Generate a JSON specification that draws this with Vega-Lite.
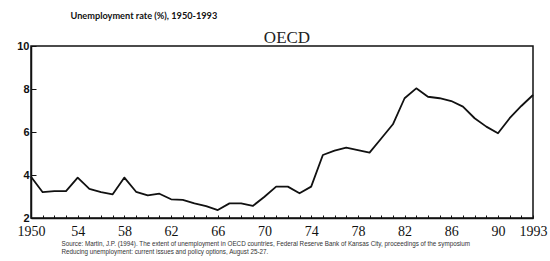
{
  "$schema": "https://vega.github.io/schema/vega-lite/v6.json",
  "width": 502,
  "height": 172,
  "autosize": "none",
  "padding": {"left": 31, "top": 46, "right": 17, "bottom": 43},
  "background": "white",
  "title": {
    "text": "OECD",
    "font": "Liberation Serif",
    "fontSize": 17,
    "fontWeight": "normal",
    "color": "#222",
    "anchor": "middle",
    "offset": 1,
    "dx": 5,
    "dy": 37
  },
  "config": {
    "view": {"stroke": "#111", "strokeWidth": 1.5},
    "axis": {"grid": false, "domainColor": "#111", "tickColor": "#111", "domainWidth": 1.5}
  },
  "data": {
    "values": [
      {"year": 1950, "rate": 3.92},
      {"year": 1951, "rate": 3.2},
      {"year": 1952, "rate": 3.25},
      {"year": 1953, "rate": 3.25},
      {"year": 1954, "rate": 3.88},
      {"year": 1955, "rate": 3.35},
      {"year": 1956, "rate": 3.2},
      {"year": 1957, "rate": 3.1},
      {"year": 1958, "rate": 3.88},
      {"year": 1959, "rate": 3.22},
      {"year": 1960, "rate": 3.05},
      {"year": 1961, "rate": 3.13},
      {"year": 1962, "rate": 2.87},
      {"year": 1963, "rate": 2.84},
      {"year": 1964, "rate": 2.68},
      {"year": 1965, "rate": 2.55},
      {"year": 1966, "rate": 2.37},
      {"year": 1967, "rate": 2.68},
      {"year": 1968, "rate": 2.68},
      {"year": 1969, "rate": 2.56},
      {"year": 1970, "rate": 2.99},
      {"year": 1971, "rate": 3.46},
      {"year": 1972, "rate": 3.46},
      {"year": 1973, "rate": 3.15},
      {"year": 1974, "rate": 3.46},
      {"year": 1975, "rate": 4.93},
      {"year": 1976, "rate": 5.13},
      {"year": 1977, "rate": 5.27},
      {"year": 1978, "rate": 5.16},
      {"year": 1979, "rate": 5.04},
      {"year": 1980, "rate": 5.7},
      {"year": 1981, "rate": 6.36},
      {"year": 1982, "rate": 7.57},
      {"year": 1983, "rate": 8.03},
      {"year": 1984, "rate": 7.64},
      {"year": 1985, "rate": 7.57},
      {"year": 1986, "rate": 7.44},
      {"year": 1987, "rate": 7.18},
      {"year": 1988, "rate": 6.64},
      {"year": 1989, "rate": 6.25},
      {"year": 1990, "rate": 5.94},
      {"year": 1991, "rate": 6.64},
      {"year": 1992, "rate": 7.21},
      {"year": 1993, "rate": 7.72}
    ]
  },
  "mark": {"type": "line", "color": "#111", "strokeWidth": 1.8, "strokeJoin": "round"},
  "encoding": {
    "x": {
      "field": "year",
      "type": "quantitative",
      "scale": {"domain": [1950, 1993], "nice": false, "zero": false},
      "axis": {
        "values": [1950,1951,1952,1953,1954,1955,1956,1957,1958,1959,1960,1961,1962,1963,1964,1965,1966,1967,1968,1969,1970,1971,1972,1973,1974,1975,1976,1977,1978,1979,1980,1981,1982,1983,1984,1985,1986,1987,1988,1989,1990,1991,1992,1993],
        "labelExpr": "datum.value == 1950 || datum.value == 1993 ? toString(datum.value) : ((datum.value - 1950) % 4 == 0 ? substring(toString(datum.value), 2, 4) : '')",
        "labelFont": "Liberation Serif",
        "labelFontSize": 14,
        "labelColor": "#111",
        "labelOverlap": false,
        "labelFlush": false,
        "labelBound": false,
        "tickSize": -3,
        "tickWidth": 1,
        "labelPadding": 9,
        "labelLimit": 0,
        "title": [
          "Source: Martin, J.P. (1994). The extent of unemployment in OECD countries, Federal Reserve Bank of Kansas City, proceedings of the symposium",
          "Reducing unemployment: current issues and policy options, August 25-27."
        ],
        "titleFont": "Liberation Sans",
        "titleFontSize": 6.3,
        "titleFontWeight": "normal",
        "titleColor": "#333",
        "titleLineHeight": 8,
        "titleAnchor": "start",
        "titleAlign": "left",
        "titleBaseline": "alphabetic",
        "titleX": 30,
        "titleY": 27
      }
    },
    "y": {
      "field": "rate",
      "type": "quantitative",
      "scale": {"domain": [2, 10], "nice": false, "zero": false},
      "axis": {
        "values": [2, 4, 6, 8, 10],
        "labelFont": "Liberation Sans",
        "labelFontWeight": "bold",
        "labelFontSize": 11,
        "labelColor": "#111",
        "tickSize": -5,
        "tickWidth": 1,
        "labelPadding": 7,
        "title": "Unemployment rate (%), 1950-1993",
        "titleFont": "Lato",
        "titleFontWeight": "bold",
        "titleFontSize": 9.2,
        "titleColor": "#111",
        "titleAngle": 0,
        "titleAlign": "left",
        "titleBaseline": "alphabetic",
        "titleX": 39,
        "titleY": -28
      }
    }
  }
}
